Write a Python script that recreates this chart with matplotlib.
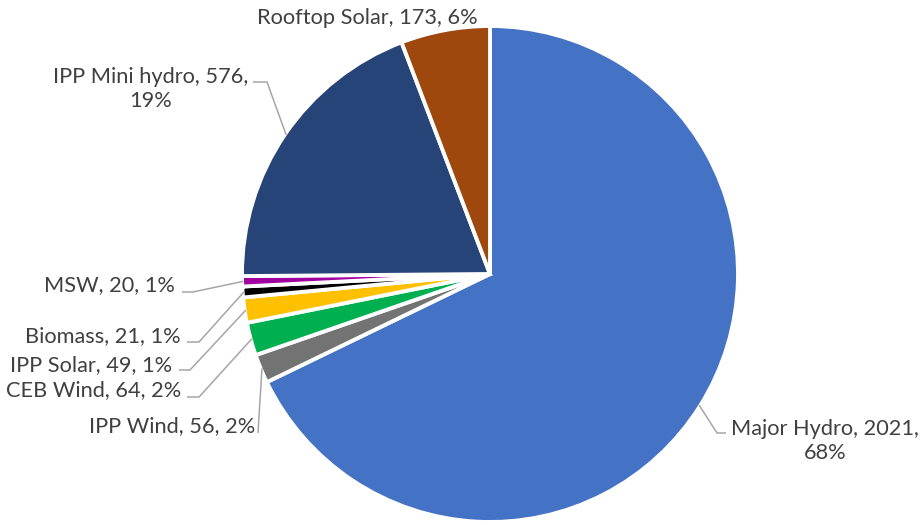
import matplotlib
matplotlib.use("Agg")
import matplotlib.pyplot as plt
import numpy as np

# Generation by source
sources = ["Major Hydro", "IPP Wind", "CEB Wind", "IPP Solar", "Biomass", "MSW",
           "IPP Mini hydro", "Rooftop Solar"]
values = [2021, 56, 64, 49, 21, 20, 576, 173]
shares = ["68%", "2%", "2%", "1%", "1%", "1%", "19%", "6%"]
colors = ["#4472C4", "#737373", "#00B050", "#FFC000", "#000000", "#A000A0",
          "#264478", "#9E480E"]

W, H = 922, 525
CX, CY, R = 490, 274, 248

plt.rcParams["font.family"] = ["Lato", "DejaVu Sans"]
fig = plt.figure(figsize=(W / 100, H / 100), dpi=100)
ax = fig.add_axes([0, 0, 1, 1])

wedges, _ = ax.pie(values, colors=colors, startangle=90, counterclock=False,
                   radius=1.0, center=(0, 0), frame=True,
                   wedgeprops=dict(edgecolor="white", linewidth=2.8))
ax.set_xlim(-CX / R, (W - CX) / R)
ax.set_ylim(-(H - CY) / R, CY / R)
ax.set_aspect("equal")
ax.axis("off")


def px(x, y):
    """Pixel position (from top-left) to data coordinates."""
    return (x - CX) / R, (CY - y) / R


# label placement: text anchor, alignment and leader path (pixels) towards the slice
layout = {
    "Major Hydro": dict(pos=(825, 441), ha="center", path=[(726, 433), (717, 433)]),
    "IPP Wind": dict(pos=(255, 426), ha="right", path=[(258, 433)]),
    "CEB Wind": dict(pos=(181, 390), ha="right", path=[(187, 397), (199, 397)]),
    "IPP Solar": dict(pos=(172, 365), ha="right", path=[(179, 370), (190, 370)]),
    "Biomass": dict(pos=(181, 336), ha="right", path=[(187, 342), (199, 342)]),
    "MSW": dict(pos=(175, 285), ha="right", path=[(182, 292), (193, 292)]),
    "IPP Mini hydro": dict(pos=(151, 89), ha="center", path=[(253, 82), (267, 82)]),
    "Rooftop Solar": dict(pos=(367, 18), ha="center", path=None),
}
wrapped = {"Major Hydro", "IPP Mini hydro"}

for w, name, v, s in zip(wedges, sources, values, shares):
    cfg = layout[name]
    sep = ",\n" if name in wrapped else ", "
    label = f"{name}, {v}{sep}{s}"
    tx, ty = px(*cfg["pos"])
    ax.text(tx, ty, label, ha=cfg["ha"], va="center", fontsize=15.7,
            color="#404040", linespacing=1.3, multialignment="center")
    if cfg["path"]:
        mid = np.deg2rad((w.theta1 + w.theta2) / 2)
        pts = [px(*p) for p in cfg["path"]] + [(0.995 * np.cos(mid), 0.995 * np.sin(mid))]
        xs, ys = zip(*pts)
        ax.plot(xs, ys, color="#A6A6A6", linewidth=1.1, solid_capstyle="butt")

fig.savefig("out.png", dpi=100, facecolor="white")
